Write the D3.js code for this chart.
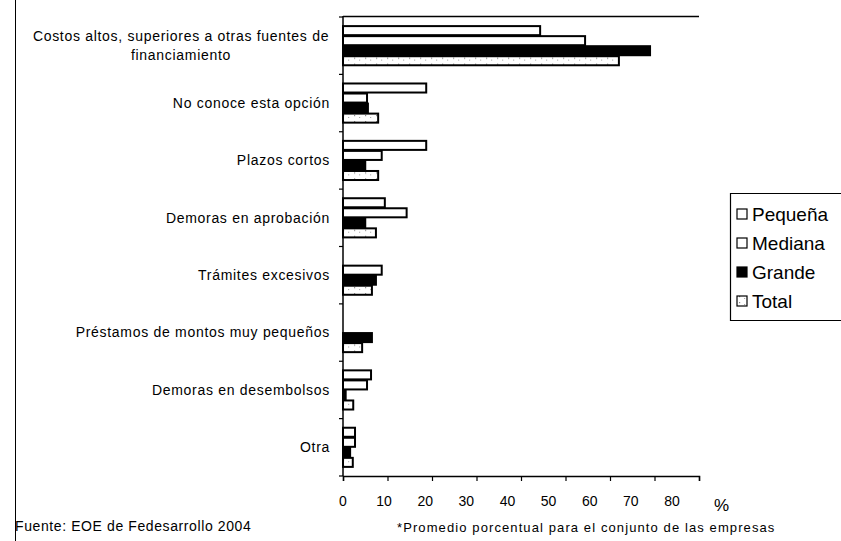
<!DOCTYPE html>
<html>
<head>
<meta charset="utf-8">
<script src="https://cdn.jsdelivr.net/npm/d3@7"></script>
<style>
  html, body { margin: 0; padding: 0; background: #fff; }
  svg { display: block; font-family: Arial, "Liberation Sans", sans-serif; }
</style>
</head>
<body>
<svg id="chart" width="841" height="541"></svg>
<script>
// Obstáculos para acceder al crédito bancario, por tamaño de empresa (%)
const categories = [
  "Costos altos, superiores a otras fuentes de|financiamiento",
  "No conoce esta opción",
  "Plazos cortos",
  "Demoras en aprobación",
  "Trámites excesivos",
  "Préstamos de montos muy pequeños",
  "Demoras en desembolsos",
  "Otra"
];
const seriesNames = ["Pequeña", "Mediana", "Grande", "Total"];
const pequena = [44.3, 18.7, 18.7, 9.4, 0, 0, 6.3, 2.7];
const mediana = [54.4, 5.4, 8.7, 14.3, 8.7, 0, 5.4, 2.7];
const grande  = [69.0, 5.6, 5.0, 5.0, 7.4, 6.5, 0.6, 1.6];
const total   = [62.0, 7.9, 7.9, 7.4, 6.5, 4.3, 2.3, 2.2];
const xTicks = [0, 10, 20, 30, 40, 50, 60, 70, 80];

const values = [pequena, mediana, grande, total];

const svg = d3.select("#chart");

const x = d3.scaleLinear().domain([0, 80]).range([343, 699]);
// tick labels sit on a slightly narrower scale than the tick marks
const xLabel = d3.scaleLinear().domain([0, 80]).range([343, 672]);

const y = d3.scaleBand().domain(categories).range([17, 476])
  .paddingInner(0.3).paddingOuter(0.15);
const ys = d3.scaleBand().domain(seriesNames).range([0, y.bandwidth()]);

// bar fills; the total uses a light speckled pattern
const defs = svg.append("defs");
const pat = defs.append("pattern").attr("id", "speck")
  .attr("patternUnits", "userSpaceOnUse").attr("width", 11).attr("height", 6);
pat.append("rect").attr("width", 11).attr("height", 6).attr("fill", "#fff");
pat.append("rect").attr("x", 2).attr("y", 2).attr("width", 1.2).attr("height", 1.2).attr("fill", "#888");
pat.append("rect").attr("x", 7).attr("y", 4).attr("width", 1.2).attr("height", 1).attr("fill", "#aaa");

const fills = { "Pequeña": "#fff", "Mediana": "#fff", "Grande": "#000", "Total": "url(#speck)" };

// outer frame edge and top of the plot area
svg.append("line").attr("x1", 15.5).attr("x2", 15.5).attr("y1", 0).attr("y2", 541)
  .attr("stroke", "#000").attr("stroke-width", 1);
svg.append("line").attr("x1", 343).attr("x2", 699).attr("y1", 16.5).attr("y2", 16.5)
  .attr("stroke", "#000").attr("stroke-width", 1.5);

// bars
const groups = svg.append("g").selectAll("g").data(categories).join("g")
  .attr("transform", d => `translate(0,${y(d)})`);
groups.each(function(cat, ci) {
  d3.select(this).selectAll("rect").data(seriesNames).join("rect")
    .attr("x", x(0))
    .attr("y", s => ys(s) + 0.5)
    .attr("width", (s, si) => Math.max(0, x(values[si][ci]) - x(0)))
    .attr("height", ys.bandwidth() - 1)
    .attr("fill", s => fills[s])
    .attr("stroke", "#000")
    .attr("stroke-width", (s, si) => values[si][ci] > 0 ? 2 : 0);
});

// category axis
svg.append("line").attr("x1", 343).attr("x2", 343).attr("y1", 16).attr("y2", 476)
  .attr("stroke", "#000").attr("stroke-width", 1.5);
const bounds = d3.range(categories.length + 1).map(i => y.range()[0] + i * y.step());
svg.append("g").selectAll("line").data(bounds).join("line")
  .attr("x1", 339).attr("x2", 343).attr("y1", d => d).attr("y2", d => d)
  .attr("stroke", "#000").attr("stroke-width", 1.2);

const labels = svg.append("g").attr("font-size", 14).attr("letter-spacing", 0.7).attr("fill", "#000");
categories.forEach(cat => {
  const lines = cat.split("|");
  const cy = y(cat) + y.bandwidth() / 2;
  if (lines.length === 1) {
    labels.append("text").attr("x", 330).attr("y", cy).attr("dy", "0.35em")
      .attr("text-anchor", "end").text(lines[0]);
  } else {
    lines.forEach((t, i) => {
      labels.append("text").attr("x", 181).attr("y", cy + (i - 0.5) * 19).attr("dy", "0.35em")
        .attr("text-anchor", "middle").text(t);
    });
  }
});

// value axis
const xAxis = svg.append("g").attr("transform", "translate(0,476)")
  .call(d3.axisBottom(x).tickValues(xTicks).tickSize(5).tickFormat(""));
xAxis.select(".domain").attr("stroke-width", 1.5);
xAxis.selectAll(".tick line").attr("stroke-width", 1.2);
svg.append("g").selectAll("text").data(xTicks).join("text")
  .attr("x", d => xLabel(d)).attr("y", 501).attr("dy", "0.35em")
  .attr("text-anchor", "middle").attr("font-size", 14).text(d => d);
svg.append("text").attr("x", 714).attr("y", 511).attr("font-size", 17).text("%");

// legend
const lg = svg.append("g");
lg.append("path").attr("d", "M841,193.5 H730.5 V320.5 H841")
  .attr("fill", "none").attr("stroke", "#000").attr("stroke-width", 1.2);
seriesNames.forEach((s, i) => {
  const cy = 214 + i * 29;
  lg.append("rect").attr("x", 737).attr("y", cy - 5).attr("width", 10).attr("height", 10)
    .attr("fill", fills[s]).attr("stroke", "#000").attr("stroke-width", 1.2);
  lg.append("text").attr("x", 752).attr("y", cy).attr("dy", "0.35em")
    .attr("font-size", 19).text(s);
});

// source and note
svg.append("text").attr("x", 15).attr("y", 531).attr("font-size", 14).attr("letter-spacing", 0.6)
  .text("Fuente: EOE de Fedesarrollo 2004");
svg.append("text").attr("x", 397).attr("y", 532).attr("font-size", 13).attr("letter-spacing", 1.1)
  .text("*Promedio porcentual para el conjunto de las empresas");
</script>
</body>
</html>
